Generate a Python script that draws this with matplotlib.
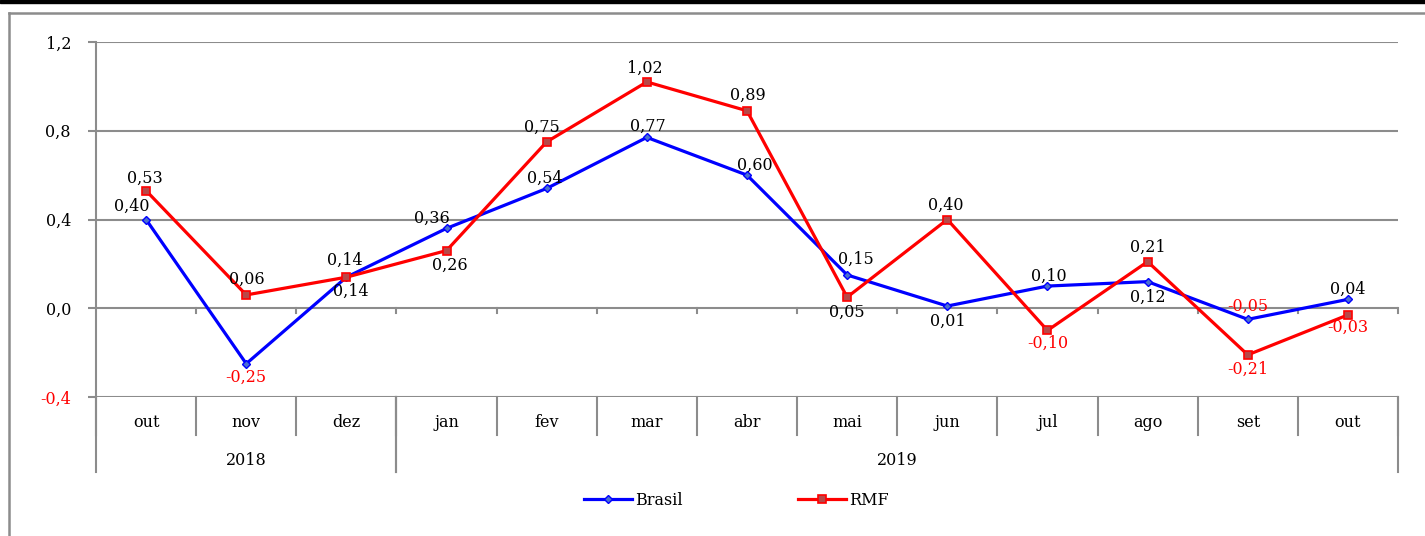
import numpy as np
import matplotlib.pyplot as plt
from matplotlib.lines import Line2D
from matplotlib.patches import Rectangle
import matplotlib.transforms as mtransforms

plt.rcParams['font.family'] = ['DejaVu Serif']

#%% Data
months = ["out", "nov", "dez", "jan", "fev", "mar", "abr", "mai", "jun", "jul", "ago", "set", "out"]
years = ["2018", "2019"]
year_spans = [(0, 3), (3, 13)]   # month index ranges for each year
brasil = [0.40, -0.25, 0.14, 0.36, 0.54, 0.77, 0.60, 0.15, 0.01, 0.10, 0.12, -0.05, 0.04]
rmf = [0.53, 0.06, 0.14, 0.26, 0.75, 1.02, 0.89, 0.05, 0.40, -0.10, 0.21, -0.21, -0.03]
yticks = [-0.4, 0.0, 0.4, 0.8, 1.2]

# label offsets in pixels from the point: (dx, dy), dy>0 is up
brasil_off = [(-14, 13), (0, -14), (-2, 17), (-15, 10), (-2, 10), (1, 11), (8, 10), (9, 16),
              (1, -15), (1, 10), (0, -16), (0, 13), (0, 10)]
rmf_off = [(-1, 12), (1, 16), (4, -14), (3, -15), (-5, 15), (-2, 14), (1, 15), (0, -15),
           (-2, 14), (0, -13), (0, 14), (0, -14), (0, -12)]

#%% Figure
fig = plt.figure(figsize=(14.25, 5.36), dpi=100)
ax = fig.add_axes([96/1425, 1-397/536, (1398-96)/1425, (397-42)/536])

x = np.arange(len(months))
gray = "#8c8c8c"
fs = 11.5

ax.plot(x, brasil, color="#0000ff", linewidth=2.3, marker="D", markersize=4,
        markerfacecolor="#4a6fd0", markeredgecolor="#0000ff", markeredgewidth=1, label="Brasil", zorder=3)
ax.plot(x, rmf, color="#ff0000", linewidth=2.3, marker="s", markersize=6,
        markerfacecolor="#b84848", markeredgecolor="#ff0000", markeredgewidth=1.2, label="RMF", zorder=4)

def fmt(v):
    return ("%.2f" % v).replace(".", ",")

for vals, offs in [(brasil, brasil_off), (rmf, rmf_off)]:
    for xi, v, off in zip(x, vals, offs):
        ax.annotate(fmt(v), (xi, v), xytext=(off[0] * 0.72, off[1] * 0.72), textcoords="offset points",
                    ha="center", va="center", fontsize=fs,
                    color="red" if v < 0 else "black", zorder=5)

ax.set_xlim(-0.5, len(months) - 0.5)
ax.set_ylim(-0.4, 1.2)
ax.set_yticks(yticks)
ax.set_yticklabels([("%.1f" % t).replace(".", ",") for t in yticks], fontsize=fs)
for lbl, t in zip(ax.get_yticklabels(), yticks):
    if t < 0:
        lbl.set_color("red")
ax.tick_params(axis="y", length=6, color=gray, width=1.5, pad=12)
ax.set_xticks([])
ax.grid(axis="y", color=gray, linewidth=1.5)
for s in ["top", "right", "bottom"]:
    ax.spines[s].set_visible(False)
ax.spines["left"].set_color(gray)
ax.spines["left"].set_linewidth(1.5)

# small ticks on zero line
for b in np.arange(0.5, len(months)):
    ax.plot([b, b], [0, -0.022], color=gray, linewidth=1.5, zorder=2, clip_on=False)

# category boxes under the plot
trans = mtransforms.blended_transform_factory(ax.transData, ax.transAxes)
for b in np.arange(-0.5, len(months)):
    ax.plot([b, b], [0, -0.107], color=gray, linewidth=1.5, transform=trans, clip_on=False)
for i, m in enumerate(months):
    ax.text(i, -0.073, m, ha="center", va="center", fontsize=fs, transform=trans)
for yr, (a, b) in zip(years, year_spans):
    ax.plot([a - 0.5, a - 0.5], [0, -0.211], color=gray, linewidth=1.5, transform=trans, clip_on=False)
    ax.plot([b - 0.5, b - 0.5], [0, -0.211], color=gray, linewidth=1.5, transform=trans, clip_on=False)
    ax.text((a + b - 1) / 2, -0.180, yr, ha="center", va="center", fontsize=fs, transform=trans)

fig.legend(loc="center", bbox_to_anchor=(0.517, 0.067), ncol=2, frameon=False, fontsize=fs,
           handlelength=3.0, columnspacing=7.2, handletextpad=0.2)

# outer frame
fig.add_artist(Rectangle((0, 1-3/536), 1, 3/536, transform=fig.transFigure, color="black"))
fig.add_artist(Line2D([9/1425, 9/1425], [0, 1-13/536], transform=fig.transFigure, color=gray, linewidth=1.8))
fig.add_artist(Line2D([9/1425, 1], [1-13/536, 1-13/536], transform=fig.transFigure, color=gray, linewidth=1.8))

fig.savefig("out.png", dpi=100)
